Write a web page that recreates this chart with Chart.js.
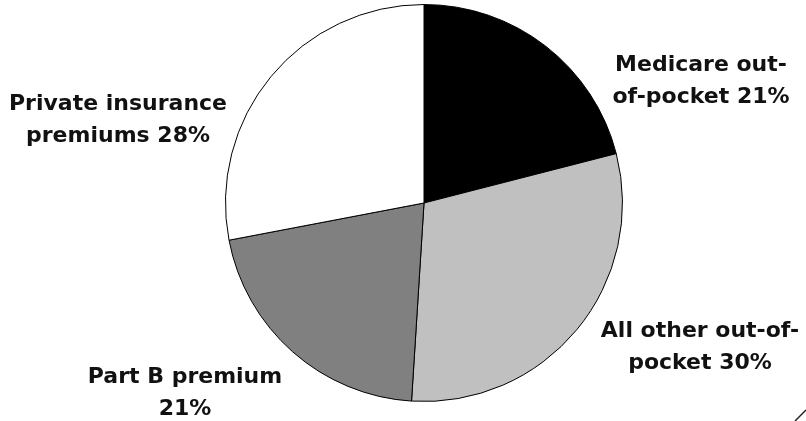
<!DOCTYPE html>
<html>
<head>
<meta charset="utf-8">
<script src="https://cdn.jsdelivr.net/npm/chart.js@4"></script>
<style>
  html, body { margin: 0; padding: 0; background: #fff; }
  #wrap { width: 806px; height: 421px; }
</style>
</head>
<body>
<div id="wrap"><canvas id="pie" width="806" height="421"></canvas></div>
<script>
// ── Data ──────────────────────────────────────────────────────────────────
const categories = [
  'Medicare out-of-pocket',
  'All other out-of-pocket',
  'Part B premium',
  'Private insurance premiums',
];
const shares = [21, 30, 21, 28];
const labelLines = [
  ['Medicare out-', 'of-pocket 21%'],
  ['All other out-of-', 'pocket 30%'],
  ['Part B premium', '21%'],
  ['Private insurance', 'premiums 28%'],
];

// ── Styles / layout ───────────────────────────────────────────────────────
const _FILLS = ['#000000', '#c0c0c0', '#808080', '#ffffff'];
const _FONT  = 'bold 22px "DejaVu Sans", Verdana, sans-serif';
const _LINE_H = 31.5;
// first-line baseline of each label
const _LABEL_POS = [
  { x: 701, y: 71 },
  { x: 700, y: 337 },
  { x: 185, y: 383 },
  { x: 118, y: 110 },
];

// draws the outside labels and the little corner tick
const labelPlugin = {
  id: 'sliceLabels',
  afterDraw(chart) {
    const ctx = chart.ctx;
    ctx.save();
    ctx.font = _FONT;
    ctx.fillStyle = '#111';
    ctx.textAlign = 'center';
    ctx.textBaseline = 'alphabetic';
    labelLines.forEach((lines, i) => {
      const p = _LABEL_POS[i];
      lines.forEach((t, k) => ctx.fillText(t, p.x, p.y + k * _LINE_H));
    });
    // small corner mark, bottom right
    ctx.strokeStyle = '#222';
    ctx.lineWidth = 1.5;
    ctx.beginPath();
    ctx.moveTo(795, 421);
    ctx.lineTo(806, 410);
    ctx.stroke();
    ctx.restore();
  },
};

new Chart(document.getElementById('pie').getContext('2d'), {
  type: 'pie',
  data: {
    labels: categories,
    datasets: [{
      data: shares,
      backgroundColor: _FILLS,
      borderColor: '#000',
      borderWidth: 1,
      borderAlign: 'center',
      hoverOffset: 0,
    }],
  },
  options: {
    responsive: false,
    animation: false,
    events: [],
    layout: { padding: { left: 42, right: 0, top: 4, bottom: 19 } },
    plugins: {
      legend: { display: false },
      tooltip: { enabled: false },
    },
  },
  plugins: [labelPlugin],
});
</script>
</body>
</html>
